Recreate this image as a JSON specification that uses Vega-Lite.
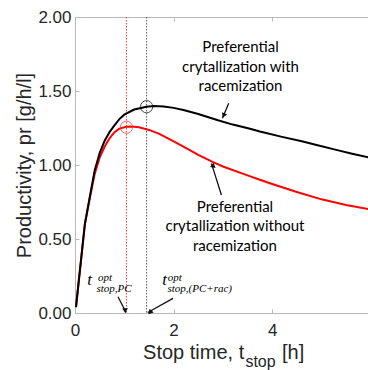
{
  "$schema": "https://vega.github.io/schema/vega-lite/v6.json",
  "width": 293,
  "height": 296,
  "autosize": {"type": "none"},
  "padding": {"left": 75, "top": 17, "right": 0, "bottom": 57},
  "background": "white",
  "config": {
    "view": {"stroke": null},
    "font": "Liberation Sans",
    "axis": {
      "domainColor": "#b8b8b8",
      "tickColor": "#b8b8b8",
      "labelColor": "#262626",
      "titleColor": "#262626",
      "labelFont": "Liberation Sans",
      "titleFont": "Liberation Sans",
      "labelFontSize": 17,
      "titleFontSize": 20,
      "titleFontWeight": "normal",
      "grid": false,
      "labelFlush": false,
      "tickSize": -4
    }
  },
  "datasets": {
    "curves": [
      {"series": "PC+rac", "t": 0.02, "pr": 0.04},
      {"series": "PC+rac", "t": 0.2, "pr": 0.6},
      {"series": "PC+rac", "t": 0.3, "pr": 0.785},
      {"series": "PC+rac", "t": 0.4, "pr": 0.965},
      {"series": "PC+rac", "t": 0.5, "pr": 1.08},
      {"series": "PC+rac", "t": 0.6, "pr": 1.163},
      {"series": "PC+rac", "t": 0.7, "pr": 1.222},
      {"series": "PC+rac", "t": 0.8, "pr": 1.268},
      {"series": "PC+rac", "t": 0.9, "pr": 1.31},
      {"series": "PC+rac", "t": 1.0, "pr": 1.34},
      {"series": "PC+rac", "t": 1.2, "pr": 1.375},
      {"series": "PC+rac", "t": 1.45, "pr": 1.394},
      {"series": "PC+rac", "t": 1.6, "pr": 1.398},
      {"series": "PC+rac", "t": 1.8, "pr": 1.395},
      {"series": "PC+rac", "t": 2.0, "pr": 1.386},
      {"series": "PC+rac", "t": 2.2, "pr": 1.372},
      {"series": "PC+rac", "t": 2.5, "pr": 1.345},
      {"series": "PC+rac", "t": 2.9, "pr": 1.302},
      {"series": "PC+rac", "t": 3.2, "pr": 1.273},
      {"series": "PC+rac", "t": 3.55, "pr": 1.245},
      {"series": "PC+rac", "t": 3.75, "pr": 1.226},
      {"series": "PC+rac", "t": 4.2, "pr": 1.19},
      {"series": "PC+rac", "t": 4.6, "pr": 1.16},
      {"series": "PC+rac", "t": 4.9, "pr": 1.135},
      {"series": "PC+rac", "t": 5.3, "pr": 1.102},
      {"series": "PC+rac", "t": 5.6, "pr": 1.078},
      {"series": "PC+rac", "t": 5.95, "pr": 1.052},
      {"series": "PC", "t": 0.02, "pr": 0.04},
      {"series": "PC", "t": 0.2, "pr": 0.6},
      {"series": "PC", "t": 0.3, "pr": 0.775},
      {"series": "PC", "t": 0.4, "pr": 0.94},
      {"series": "PC", "t": 0.5, "pr": 1.05},
      {"series": "PC", "t": 0.6, "pr": 1.123},
      {"series": "PC", "t": 0.7, "pr": 1.18},
      {"series": "PC", "t": 0.8, "pr": 1.222},
      {"series": "PC", "t": 0.9, "pr": 1.246},
      {"series": "PC", "t": 1.04, "pr": 1.258},
      {"series": "PC", "t": 1.15, "pr": 1.26},
      {"series": "PC", "t": 1.3, "pr": 1.255},
      {"series": "PC", "t": 1.5, "pr": 1.237},
      {"series": "PC", "t": 1.7, "pr": 1.212},
      {"series": "PC", "t": 2.0, "pr": 1.16},
      {"series": "PC", "t": 2.2, "pr": 1.124},
      {"series": "PC", "t": 2.5, "pr": 1.068},
      {"series": "PC", "t": 2.8, "pr": 1.02},
      {"series": "PC", "t": 3.0, "pr": 0.99},
      {"series": "PC", "t": 3.5, "pr": 0.93},
      {"series": "PC", "t": 3.75, "pr": 0.9},
      {"series": "PC", "t": 4.0, "pr": 0.872},
      {"series": "PC", "t": 4.5, "pr": 0.818},
      {"series": "PC", "t": 5.0, "pr": 0.768},
      {"series": "PC", "t": 5.5, "pr": 0.73},
      {"series": "PC", "t": 5.95, "pr": 0.703}
    ],
    "vlines": [
      {"series": "PC", "t": 1.043},
      {"series": "PC+rac", "t": 1.452}
    ],
    "optima": [
      {"series": "PC", "t": 1.043, "pr": 1.255},
      {"series": "PC+rac", "t": 1.452, "pr": 1.394}
    ],
    "arrows": [
      {"id": "a1", "t": 3.118, "pr": 1.418, "t2": 2.99, "pr2": 1.316, "th": 3.014, "ph": 1.334},
      {"id": "a2", "t": 2.97, "pr": 0.797, "t2": 2.767, "pr2": 1.011, "th": 2.785, "ph": 0.992},
      {"id": "a3", "t": 0.872, "pr": 0.11, "t2": 1.034, "pr2": 0.005, "th": 1.002, "ph": 0.023},
      {"id": "a4", "t": 1.988, "pr": 0.099, "t2": 1.475, "pr2": 0.003, "th": 1.527, "ph": 0.0135}
    ],
    "notes": [
      {"t": 3.357, "pr": 1.797, "text": "Preferential\ncrytallization with\nracemization"},
      {"t": 3.245, "pr": 0.718, "text": "Preferential\ncrytallization without\nracemization"}
    ],
    "tmain": [
      {"t": 0.25, "pr": 0.189, "text": "t"},
      {"t": 1.77, "pr": 0.189, "text": "t"}
    ],
    "tsub": [
      {"t": 0.467, "pr": 0.215, "text": "opt"},
      {"t": 0.434, "pr": 0.14, "text": "stop,PC"},
      {"t": 1.88, "pr": 0.215, "text": "opt"},
      {"t": 1.875, "pr": 0.14, "text": "stop,(PC+rac)"}
    ],
    "xtitle": [
      {"t": 1.38, "pr": -0.311, "text": "Stop time, t"},
      {"t": 4.2, "pr": -0.311, "text": "[h]"}
    ],
    "xtitlesub": [
      {"t": 3.456, "pr": -0.363, "text": "stop"}
    ]
  },
  "layer": [
    {
      "data": {"name": "vlines"},
      "transform": [{"filter": "datum.series == 'PC'"}],
      "mark": {"type": "rule", "color": "#ff3b3b", "strokeWidth": 1, "strokeDash": [1.5, 1.5]},
      "encoding": {
        "x": {"field": "t", "type": "quantitative", "scale": {"domain": [0, 5.943], "nice": false, "zero": false},
              "axis": {"orient": "top", "values": [0, 2, 4], "labels": false, "title": null}}
      }
    },
    {
      "data": {"name": "vlines"},
      "transform": [{"filter": "datum.series == 'PC+rac'"}],
      "mark": {"type": "rule", "color": "#555555", "strokeWidth": 1, "strokeDash": [1.5, 1.5]},
      "encoding": {
        "x": {"field": "t", "type": "quantitative", "scale": {"domain": [0, 5.943], "nice": false, "zero": false}, "axis": null}
      }
    },
    {
      "data": {"name": "curves"},
      "transform": [{"filter": "datum.series == 'PC'"}],
      "mark": {"type": "line", "color": "#ff0000", "strokeWidth": 2},
      "encoding": {
        "x": {"field": "t", "type": "quantitative", "scale": {"domain": [0, 5.943], "nice": false, "zero": false}, "axis": null},
        "y": {"field": "pr", "type": "quantitative", "scale": {"domain": [0, 2], "nice": false}, "axis": null}
      }
    },
    {
      "data": {"name": "curves"},
      "transform": [{"filter": "datum.series == 'PC+rac'"}],
      "mark": {"type": "line", "color": "#000000", "strokeWidth": 2},
      "encoding": {
        "x": {"field": "t", "type": "quantitative", "scale": {"domain": [0, 5.943], "nice": false, "zero": false},
              "axis": {"orient": "bottom", "values": [0, 2, 4], "format": "d", "title": null, "labelPadding": 13}},
        "y": {"field": "pr", "type": "quantitative", "scale": {"domain": [0, 2], "nice": false},
              "axis": {"orient": "left", "values": [0, 0.5, 1, 1.5, 2], "format": ".2f", "title": "Productivity, pr [g/h/l]", "labelPadding": 8, "titlePadding": 3}}
      }
    },
    {
      "data": {"name": "optima"},
      "transform": [{"filter": "datum.series == 'PC'"}],
      "mark": {"type": "point", "shape": "circle", "size": 150, "filled": false, "color": "#ff3030", "strokeWidth": 1},
      "encoding": {
        "x": {"field": "t", "type": "quantitative", "scale": {"domain": [0, 5.943], "nice": false, "zero": false}, "axis": null},
        "y": {"field": "pr", "type": "quantitative", "scale": {"domain": [0, 2], "nice": false}, "axis": null}
      }
    },
    {
      "data": {"name": "optima"},
      "transform": [{"filter": "datum.series == 'PC+rac'"}],
      "mark": {"type": "point", "shape": "circle", "size": 150, "filled": false, "color": "#000000", "strokeWidth": 1},
      "encoding": {
        "x": {"field": "t", "type": "quantitative", "scale": {"domain": [0, 5.943], "nice": false, "zero": false}, "axis": null},
        "y": {"field": "pr", "type": "quantitative", "scale": {"domain": [0, 2], "nice": false}, "axis": null}
      }
    },
    {
      "data": {"name": "arrows"},
      "mark": {"type": "rule", "color": "#111111", "strokeWidth": 1.3},
      "encoding": {
        "x": {"field": "t", "type": "quantitative", "scale": {"domain": [0, 5.943], "nice": false, "zero": false}, "axis": null},
        "y": {"field": "pr", "type": "quantitative", "scale": {"domain": [0, 2], "nice": false}, "axis": null},
        "x2": {"field": "t2"},
        "y2": {"field": "pr2"}
      }
    },
    {
      "data": {"name": "arrows"},
      "mark": {"type": "point", "shape": "triangle-up", "size": 32, "filled": true, "color": "#111111", "opacity": 1},
      "encoding": {
        "x": {"field": "th", "type": "quantitative", "scale": {"domain": [0, 5.943], "nice": false, "zero": false}, "axis": null},
        "y": {"field": "ph", "type": "quantitative", "scale": {"domain": [0, 2], "nice": false}, "axis": null},
        "angle": {"field": "id", "type": "nominal", "scale": {"domain": ["a1", "a2", "a3", "a4"], "range": [202.8, 342.5, 153.7, 240.7]}, "legend": null}
      }
    },
    {
      "data": {"name": "notes"},
      "mark": {"type": "text", "font": "Lato", "fontSize": 15, "color": "#000000", "align": "center", "baseline": "middle", "lineBreak": "\n", "lineHeight": 19.5},
      "encoding": {
        "x": {"field": "t", "type": "quantitative", "scale": {"domain": [0, 5.943], "nice": false, "zero": false}, "axis": null},
        "y": {"field": "pr", "type": "quantitative", "scale": {"domain": [0, 2], "nice": false}, "axis": null},
        "text": {"field": "text"}
      }
    },
    {
      "data": {"name": "tmain"},
      "mark": {"type": "text", "font": "Liberation Serif", "fontStyle": "italic", "fontSize": 17, "color": "#000000", "align": "left", "baseline": "alphabetic"},
      "encoding": {
        "x": {"field": "t", "type": "quantitative", "scale": {"domain": [0, 5.943], "nice": false, "zero": false}, "axis": null},
        "y": {"field": "pr", "type": "quantitative", "scale": {"domain": [0, 2], "nice": false}, "axis": null},
        "text": {"field": "text"}
      }
    },
    {
      "data": {"name": "tsub"},
      "mark": {"type": "text", "font": "Liberation Serif", "fontStyle": "italic", "fontSize": 11, "color": "#000000", "align": "left", "baseline": "alphabetic"},
      "encoding": {
        "x": {"field": "t", "type": "quantitative", "scale": {"domain": [0, 5.943], "nice": false, "zero": false}, "axis": null},
        "y": {"field": "pr", "type": "quantitative", "scale": {"domain": [0, 2], "nice": false}, "axis": null},
        "text": {"field": "text"}
      }
    },
    {
      "data": {"name": "xtitle"},
      "mark": {"type": "text", "font": "Liberation Sans", "fontSize": 20, "color": "#262626", "align": "left", "baseline": "alphabetic", "clip": false},
      "encoding": {
        "x": {"field": "t", "type": "quantitative", "scale": {"domain": [0, 5.943], "nice": false, "zero": false}, "axis": null},
        "y": {"field": "pr", "type": "quantitative", "scale": {"domain": [0, 2], "nice": false}, "axis": null},
        "text": {"field": "text"}
      }
    },
    {
      "data": {"name": "xtitlesub"},
      "mark": {"type": "text", "font": "Liberation Sans", "fontSize": 16, "color": "#262626", "align": "left", "baseline": "alphabetic", "clip": false},
      "encoding": {
        "x": {"field": "t", "type": "quantitative", "scale": {"domain": [0, 5.943], "nice": false, "zero": false}, "axis": null},
        "y": {"field": "pr", "type": "quantitative", "scale": {"domain": [0, 2], "nice": false}, "axis": null},
        "text": {"field": "text"}
      }
    }
  ],
  "resolve": {"axis": {"x": "independent", "y": "independent"}}
}
